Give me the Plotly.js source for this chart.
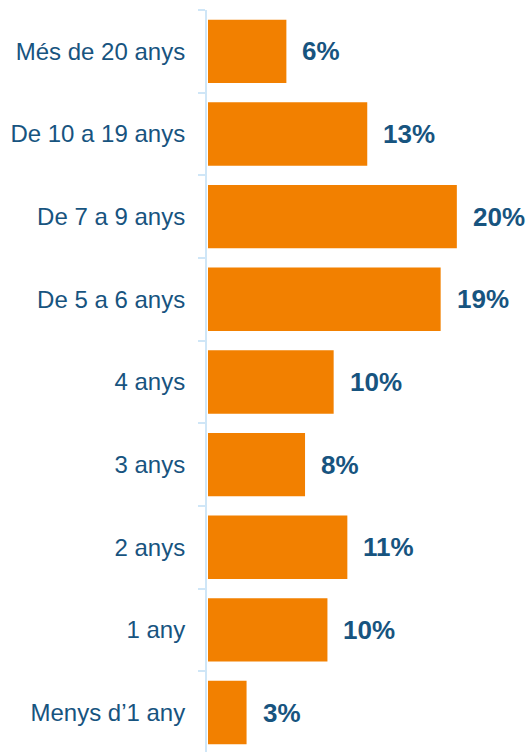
<!DOCTYPE html>
<html>
<head>
<meta charset="utf-8">
<script src="https://cdn.plot.ly/plotly-3.0.1.min.js"></script>
<style>html,body{margin:0;padding:0;background:#fff;}#chart{width:529px;height:752px;}</style>
</head>
<body>
<div id="chart"></div>
<script>
const categories = ["Menys d’1 any", "1 any", "2 anys", "3 anys", "4 anys", "De 5 a 6 anys", "De 7 a 9 anys", "De 10 a 19 anys", "Més de 20 anys"];
const values = [3.1, 9.6, 11.2, 7.8, 10.1, 18.7, 20.0, 12.8, 6.3];
const labels = ["3%", "10%", "11%", "8%", "10%", "19%", "20%", "13%", "6%"];

const trace = {
  type: 'bar',
  orientation: 'h',
  x: values,
  y: categories,
  marker: {color: '#F28000'},
  hoverinfo: 'none'
};

const annotations = categories.map((c, i) => ({
  x: values[i], y: c, xref: 'x', yref: 'y',
  text: labels[i], showarrow: false,
  xanchor: 'left', xshift: 14,
  font: {family: 'Liberation Sans, Arial, sans-serif', size: 26, color: '#17547F', weight: 'bold'}
}));

const layout = {
  width: 529, height: 752,
  margin: {l: 207, r: 0, t: 10, b: 0},
  paper_bgcolor: '#fff', plot_bgcolor: '#fff',
  bargap: 0.233,
  showlegend: false,
  xaxis: {visible: false, range: [-0.08, 25.8], fixedrange: true},
  yaxis: {
    type: 'category',
    range: [-0.477, 8.5],
    showline: true, linecolor: '#CFE6F7', linewidth: 2,
    ticks: 'outside', tickson: 'boundaries', ticklen: 7, tickcolor: '#CFE6F7', tickwidth: 2,
    ticklabelstandoff: 15,
    showgrid: false, zeroline: false,
    tickfont: {family: 'Liberation Sans, Arial, sans-serif', size: 24, color: '#17547F'}
  },
  annotations: annotations
};

Plotly.newPlot('chart', [trace], layout, {displayModeBar: false, staticPlot: true});
</script>
</body>
</html>
